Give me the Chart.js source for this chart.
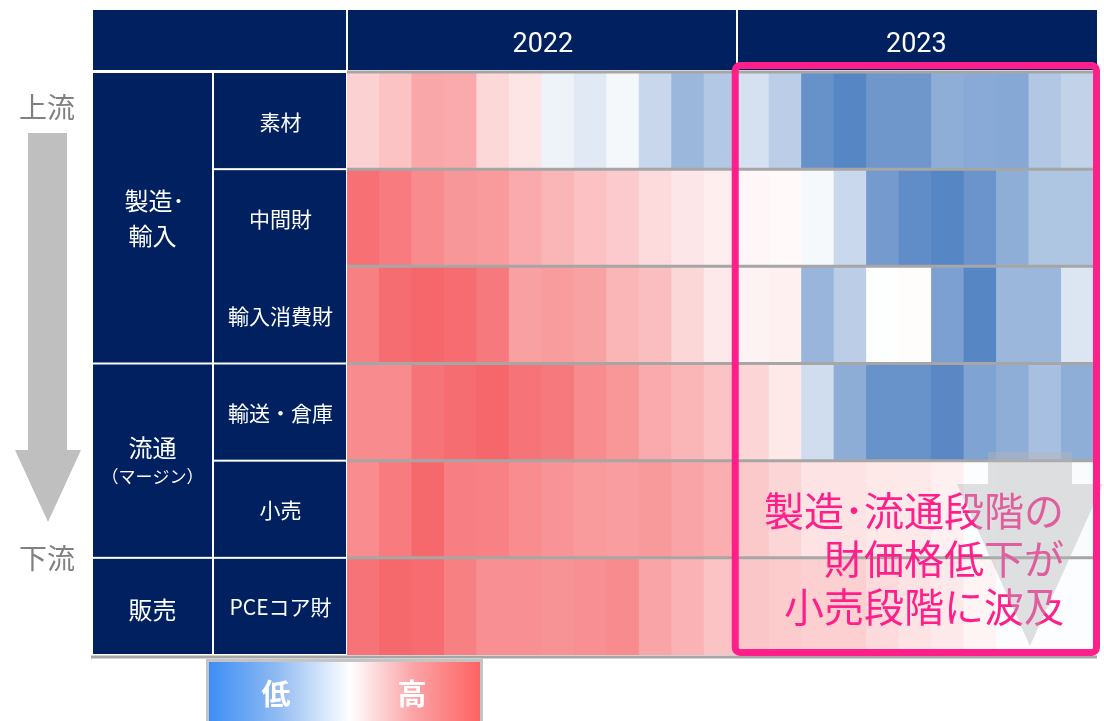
<!DOCTYPE html>
<html lang="ja">
<head>
<meta charset="utf-8">
<title>財価格ヒートマップ</title>
<script src="https://cdn.jsdelivr.net/npm/chart.js@4.4.1/dist/chart.umd.min.js"></script>
<style>
  html, body { margin: 0; padding: 0; background: #fff; }
  canvas { display: block; }
</style>
</head>
<body>
<canvas id="heatmap" width="1104" height="721"></canvas>
<script>
// 月（2022年1月〜2023年11月）
const months = [
  '2022-01', '2022-02', '2022-03', '2022-04', '2022-05', '2022-06',
  '2022-07', '2022-08', '2022-09', '2022-10', '2022-11', '2022-12',
  '2023-01', '2023-02', '2023-03', '2023-04', '2023-05', '2023-06',
  '2023-07', '2023-08', '2023-09', '2023-10', '2023-11'
];
const years = ['2022', '2023'];

// 行ラベル（上流→下流）
const rowLabels = ['素材', '中間財', '輸入消費財', '輸送・倉庫', '小売', 'PCEコア財'];
// 段階ラベルと、それぞれがまたがる行数
const stageLabels = [['製造･', '輸入'], ['流通', '（マージン）'], ['販売']];
const stageSpans = [3, 2, 1];
// 右側ラベル枠の結合（中間財と輸入消費財は同じ枠）
const labelBoxSpans = [1, 2, 1, 1, 1];

// 価格上昇率の相対的な高さ（-1 = 低, +1 = 高）
const materials = [0.30, 0.39, 0.57, 0.55, 0.25, 0.17, -0.10, -0.18, -0.06, -0.32, -0.58, -0.44,
  -0.24, -0.39, -0.88, -0.97, -0.83, -0.83, -0.65, -0.68, -0.70, -0.45, -0.36];
const intermediate = [0.92, 0.85, 0.75, 0.67, 0.65, 0.55, 0.48, 0.40, 0.34, 0.23, 0.16, 0.11,
  0.05, 0.04, -0.05, -0.31, -0.80, -0.92, -0.97, -0.86, -0.65, -0.46, -0.46];
const importedConsumer = [0.82, 0.94, 0.98, 0.95, 0.86, 0.61, 0.64, 0.60, 0.48, 0.42, 0.26, 0.14,
  0.08, 0.10, -0.59, -0.39, -0.01, 0.02, -0.76, -0.97, -0.58, -0.58, -0.20];
const transport = [0.75, 0.75, 0.90, 0.94, 0.98, 0.90, 0.86, 0.75, 0.68, 0.55, 0.48, 0.39,
  0.27, 0.15, -0.27, -0.66, -0.87, -0.87, -0.95, -0.74, -0.65, -0.51, -0.65];
const retail = [0.74, 0.85, 0.97, 0.83, 0.81, 0.74, 0.69, 0.65, 0.63, 0.66, 0.58, 0.52,
  0.35, 0.27, 0.18, 0.18, 0.15, 0.14, 0.10, -0.02, -0.03, -0.03, -0.03];
const pceCoreGoods = [0.90, 0.97, 0.95, 0.82, 0.72, 0.72, 0.70, 0.72, 0.75, 0.59, 0.50, 0.39,
  0.37, 0.33, 0.31, 0.31, 0.23, 0.18, 0.14, 0.07, -0.02, -0.02, -0.02];

const rows = [materials, intermediate, importedConsumer, transport, retail, pceCoreGoods];

const noteLines = ['製造･流通段階の', '財価格低下が', '小売段階に波及'];

const NAVY = '#002060';
const PINK = '#ff1f8a';
const JP = '"Noto Sans CJK JP", "Noto Sans", sans-serif';

// 白を中心に青（低）〜赤（高）
function heatColor(v) {
  const end = v >= 0 ? [245, 100, 104] : [82, 130, 194];
  const t = Math.min(1, Math.abs(v));
  const c = end.map(e => Math.round(255 - (255 - e) * t));
  return `rgb(${c[0]}, ${c[1]}, ${c[2]})`;
}

// 各行を浮動棒グラフ [r, r+1] で描き、セルの色を値から決める
const datasets = rows.map((vals, r) => ({
  label: rowLabels[r],
  data: vals.map(() => [r, r + 1]),
  backgroundColor: vals.map(heatColor),
  borderWidth: 0,
  inflateAmount: 0.5,
  barPercentage: 1,
  categoryPercentage: 1,
  grouped: false
}));

function colLeft(chart, i) {
  const x = chart.scales.x;
  const w = x.getPixelForValue(1) - x.getPixelForValue(0);
  return x.getPixelForValue(i) - w / 2;
}

function text(ctx, str, x, y, font, color, align) {
  ctx.font = font;
  ctx.fillStyle = color;
  ctx.textAlign = align || 'center';
  ctx.textBaseline = 'middle';
  ctx.fillText(str, x, y);
}

const frame = {
  id: 'frame',
  beforeDatasetsDraw(chart) {
    const ctx = chart.ctx;
    const ca = chart.chartArea;
    const y = v => chart.scales.y.getPixelForValue(v);
    const left = 93, stageRight = 212, labelLeft = 214;
    ctx.save();

    // 年の見出し
    const headTop = 10, headBottom = ca.top - 2;
    ctx.fillStyle = NAVY;
    ctx.fillRect(left, headTop, ca.right + 3 - left, headBottom - headTop);
    let start = 0;
    years.forEach(yr => {
      const n = months.filter(m => m.startsWith(yr)).length;
      const x0 = colLeft(chart, start);
      const x1 = colLeft(chart, start + n);
      ctx.fillStyle = '#fff';
      ctx.fillRect(Math.round(x0) - 1, headTop, 2, headBottom - headTop);
      text(ctx, yr, (x0 + Math.min(x1, ca.right)) / 2 + 1, 45, '27px Roboto', '#fff');
      start += n;
    });

    // 段階ラベル
    let r = 0;
    stageSpans.forEach((span, i) => {
      const y0 = y(r), y1 = y(r + span);
      ctx.fillStyle = NAVY;
      ctx.fillRect(left, y0 + 1, stageRight - left, y1 - y0 - 2);
      const cx = (left + stageRight) / 2, cy = (y0 + y1) / 2;
      const lines = stageLabels[i];
      if (lines.length === 1) {
        text(ctx, lines[0], cx, cy + 3, '24px ' + JP, '#fff');
      } else if (i === 0) {
        text(ctx, lines[0], cx + 2, cy - 17, '24px ' + JP, '#fff');
        text(ctx, lines[1], cx, cy + 18, '24px ' + JP, '#fff');
      } else {
        text(ctx, lines[0], cx, cy - 13, '24px ' + JP, '#fff');
        text(ctx, lines[1], cx, cy + 16, '17px ' + JP, '#fff');
      }
      r += span;
    });

    // 項目ラベル
    r = 0;
    labelBoxSpans.forEach(span => {
      const y0 = y(r), y1 = y(r + span);
      ctx.fillStyle = NAVY;
      ctx.fillRect(labelLeft, y0 + 1, ca.left - 1 - labelLeft, y1 - y0 - 2);
      r += span;
    });
    rowLabels.forEach((lab, i) => {
      const cy = (y(i) + y(i + 1)) / 2;
      text(ctx, lab, (labelLeft + ca.left) / 2, cy + 1, '21px ' + JP, '#fff');
    });

    // 上流→下流の矢印
    ctx.fillStyle = '#bfbfbf';
    ctx.beginPath();
    ctx.moveTo(28, 133); ctx.lineTo(67, 133); ctx.lineTo(67, 450);
    ctx.lineTo(81, 450); ctx.lineTo(48, 522); ctx.lineTo(15, 450);
    ctx.lineTo(28, 450); ctx.closePath();
    ctx.fill();
    text(ctx, '上流', 47, 107, '28px ' + JP, '#808080');
    text(ctx, '下流', 47, 558, '28px ' + JP, '#808080');
    ctx.restore();
  },
  afterDatasetsDraw(chart) {
    const ctx = chart.ctx;
    const ca = chart.chartArea;
    const y = v => chart.scales.y.getPixelForValue(v);
    ctx.save();

    // 行の区切り線
    ctx.strokeStyle = '#a6a6a6';
    ctx.lineWidth = 3;
    for (let r = 0; r < rows.length; r++) {
      ctx.beginPath();
      ctx.moveTo(ca.left, y(r));
      ctx.lineTo(ca.right, y(r));
      ctx.stroke();
    }
    ctx.beginPath();
    ctx.moveTo(91, ca.bottom + 2);
    ctx.lineTo(ca.right + 3, ca.bottom + 2);
    ctx.stroke();

    // 2023年の注記
    const bx0 = colLeft(chart, 12) - 1.5;
    noteLines.forEach((line, i) => {
      text(ctx, line, 1064, 511 + i * 48, '40px ' + JP, PINK, 'right');
    });
    ctx.fillStyle = 'rgba(180, 180, 184, 0.42)';
    ctx.beginPath();
    ctx.moveTo(988, 452); ctx.lineTo(1072, 452); ctx.lineTo(1072, 484);
    ctx.lineTo(1103, 484); ctx.lineTo(1030, 646); ctx.lineTo(957, 484);
    ctx.lineTo(988, 484); ctx.closePath();
    ctx.fill();

    ctx.strokeStyle = PINK;
    ctx.lineWidth = 7;
    ctx.beginPath();
    ctx.roundRect(bx0, ca.top - 6.5, ca.right + 2.5 - bx0, ca.bottom - ca.top + 4, 5);
    ctx.stroke();

    // 凡例（低〜高）
    const lx = 209, lw = 271, ly = 662;
    const grad = ctx.createLinearGradient(lx, 0, lx + lw, 0);
    grad.addColorStop(0, '#3d8ef5');
    grad.addColorStop(0.25, '#8fbaf2');
    grad.addColorStop(0.52, '#ffffff');
    grad.addColorStop(0.75, '#fba5a8');
    grad.addColorStop(1, '#ff6262');
    ctx.fillStyle = grad;
    ctx.fillRect(lx, ly, lw, 70);
    ctx.strokeStyle = '#c4c4c4';
    ctx.lineWidth = 3;
    ctx.strokeRect(lx - 1.5, ly - 1.5, lw + 3, 73);
    text(ctx, '低', 276, 694, 'bold 29px ' + JP, '#fff');
    text(ctx, '高', 412, 694, 'bold 29px ' + JP, '#fff');
    ctx.restore();
  }
};

new Chart(document.getElementById('heatmap'), {
  type: 'bar',
  data: { labels: months, datasets },
  options: {
    responsive: false,
    animation: false,
    events: [],
    layout: { padding: { left: 347, right: 10, top: 72, bottom: 66 } },
    scales: {
      x: { display: false, grid: { display: false } },
      y: { display: false, min: 0, max: rows.length, reverse: true }
    },
    plugins: { legend: { display: false }, tooltip: { enabled: false } }
  },
  plugins: [frame]
});
</script>
</body>
</html>
